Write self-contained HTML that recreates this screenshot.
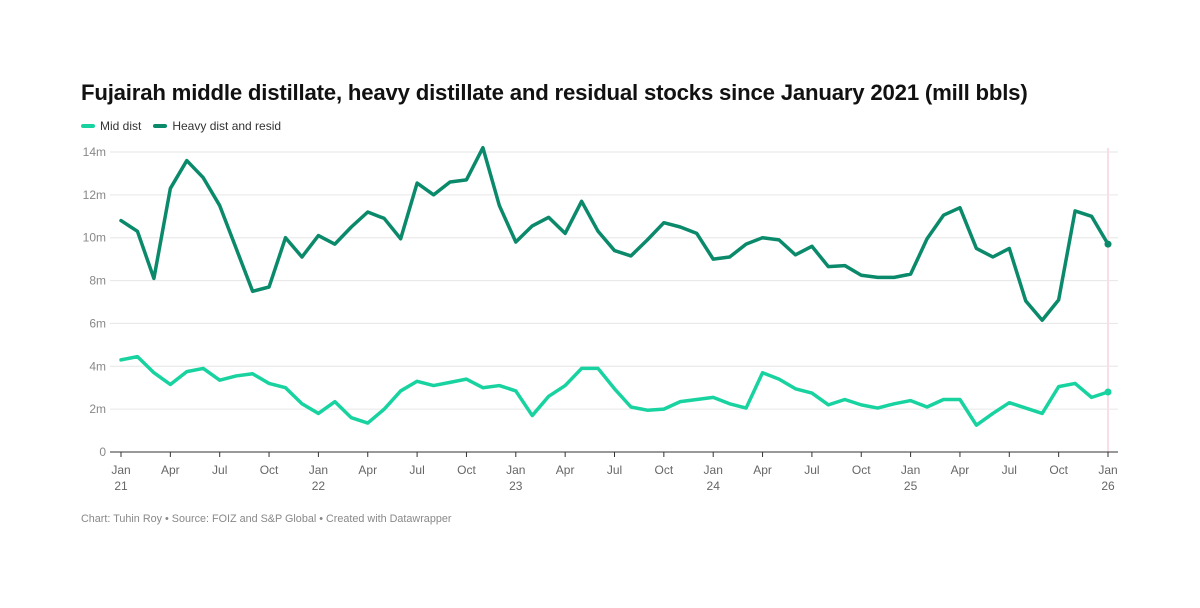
<!DOCTYPE html>
<html><head><meta charset="utf-8"><style>
body{margin:0;background:#fff;font-family:"Liberation Sans",Arial,sans-serif;}
#wrap{position:relative;width:1200px;height:608px;}
h1{position:absolute;left:81px;top:80px;margin:0;font-size:22.2px;font-weight:bold;color:#111;letter-spacing:-0.2px;}
.legend{position:absolute;top:119px;left:81px;font-size:12px;color:#333;display:flex;gap:12px;}
.legend span{display:flex;align-items:center;}
.legend i{display:inline-block;width:14px;height:4px;border-radius:2px;margin-right:5px;}
.foot{position:absolute;left:81px;top:513px;font-size:10.8px;color:#888;}
</style></head><body><div id="wrap">
<h1>Fujairah middle distillate, heavy distillate and residual stocks since January 2021 (mill bbls)</h1>
<div class="legend">
<span><i style="background:#18d3a0"></i>Mid dist</span>
<span><i style="background:#0b8a6b"></i>Heavy dist and resid</span>
</div>
<svg id="chart" width="1200" height="608" style="position:absolute;left:0;top:0"></svg>
<div class="foot">Chart: Tuhin Roy • Source: FOIZ and S&amp;P Global • Created with Datawrapper</div>
</div>
<script>
const heavy=[10.8,10.3,8.1,12.3,13.6,12.8,11.5,9.5,7.5,7.7,10.0,9.1,
10.1,9.7,10.5,11.2,10.9,9.95,12.55,12.0,12.6,12.7,14.2,11.5,
9.8,10.55,10.95,10.2,11.7,10.3,9.4,9.15,9.9,10.7,10.5,10.2,
9.0,9.1,9.7,10.0,9.9,9.2,9.6,8.65,8.7,8.25,8.15,8.15,
8.3,9.95,11.05,11.4,9.5,9.1,9.5,7.05,6.15,7.1,11.25,11.0,9.7];
const mid=[4.3,4.45,3.7,3.15,3.75,3.9,3.35,3.55,3.65,3.2,3.0,2.25,
1.8,2.35,1.6,1.35,2.0,2.85,3.3,3.1,3.25,3.4,3.0,3.1,
2.85,1.7,2.6,3.1,3.9,3.9,2.95,2.1,1.95,2.0,2.35,2.45,
2.55,2.25,2.05,3.7,3.4,2.95,2.75,2.2,2.45,2.2,2.05,2.25,
2.4,2.1,2.45,2.45,1.25,1.8,2.3,2.05,1.8,3.05,3.2,2.55,2.8];
const yTicks=[0,2,4,6,8,10,12,14];
const xLabels=[["Jan","21"],["Apr",""],["Jul",""],["Oct",""],["Jan","22"],["Apr",""],["Jul",""],["Oct",""],["Jan","23"],["Apr",""],["Jul",""],["Oct",""],["Jan","24"],["Apr",""],["Jul",""],["Oct",""],["Jan","25"],["Apr",""],["Jul",""],["Oct",""],["Jan","26"]];
const NS="http://www.w3.org/2000/svg",svg=document.getElementById('chart');
const X=i=>121+i*(1108-121)/60, Y=v=>452-v*(300/14);
function mk(t,a){const e=document.createElementNS(NS,t);for(const k in a)e.setAttribute(k,a[k]);svg.appendChild(e);return e;}
yTicks.forEach(v=>{
 if(v>0){const g=mk('line',{x1:110,x2:1118,y1:Y(v),y2:Y(v),stroke:'#e6e6e6','stroke-width':1});
 
 }
 const t=mk('text',{x:106,y:Y(v)+4,'text-anchor':'end','font-size':12,fill:'#888','font-family':'Liberation Sans,sans-serif'});
 t.textContent=v===0?'0':v+'m';
 
 
});
const hl=mk('line',{x1:1108,x2:1108,y1:148,y2:452,stroke:'#fbdde5','stroke-width':2});


const ax=mk('line',{x1:110,x2:1118,y1:452,y2:452,stroke:'#333','stroke-width':1});


xLabels.forEach((l,k)=>{const x=X(k*3);
 const tk=mk('line',{x1:x,x2:x,y1:452,y2:457,stroke:'#333'});
 
 
 const t=mk('text',{x:x,y:474,'text-anchor':'middle','font-size':12,fill:'#666','font-family':'Liberation Sans,sans-serif'});
 t.textContent=l[0];
 
 
 if(l[1]){const t2=mk('text',{x:x,y:490,'text-anchor':'middle','font-size':12,fill:'#666','font-family':'Liberation Sans,sans-serif'});
 t2.textContent=l[1];
 
 }
});
function line(d,c,n){
 const p=mk('polyline',{points:d.map((v,i)=>X(i)+','+Y(v)).join(' '),fill:'none',stroke:c,'stroke-width':3.5,'stroke-linejoin':'round','stroke-linecap':'round'});
 
 
 const dt=mk('circle',{cx:X(d.length-1),cy:Y(d[d.length-1]),r:3.5,fill:c});
 
 
}
line(heavy,'#0b8a6b','heavy-dist');
line(mid,'#18d3a0','mid-dist');
</script></body></html>
